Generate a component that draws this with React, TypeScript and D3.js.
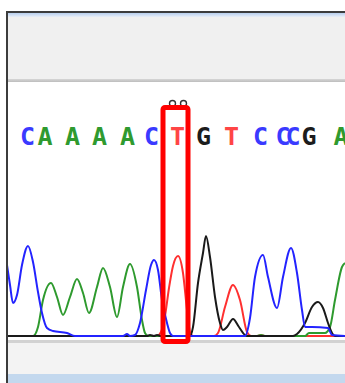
import React from "react";
import * as d3 from "d3";

// Trace samples: [scan position, signal]
const blueTrace: [number, number][] = [
  [0, 71], [3, 51], [6, 33], [10, 41], [15, 71], [21, 90], [26, 74], [31, 44], [35, 23], [40, 8],
  [46, 5], [60, 3], [68, 0], [116, 0], [120, 2], [123, 0], [128, 1], [133, 13], [139, 46], [144, 71],
  [147, 76], [151, 66], [155, 36], [160, 13], [163, 3], [166, 0], [238, 0], [243, 18], [248, 59],
  [256, 81], [261, 59], [270, 28], [276, 59], [284, 88], [290, 63], [295, 26], [298, 9], [305, 9],
  [321, 8], [325, 1], [338, 0],
];
const greenTrace: [number, number][] = [
  [0, 0], [26, 0], [31, 9], [36, 36], [44, 53], [50, 39], [56, 21], [63, 39], [70, 57], [76, 43],
  [82, 23], [90, 49], [96, 68], [103, 49], [110, 19], [116, 49], [123, 72], [130, 49], [135, 16],
  [138, 3], [141, 0], [250, 0], [254, 1], [258, 0], [298, 0], [302, 3], [318, 3], [323, 9],
  [328, 36], [335, 69], [338, 73],
];
const redTrace: [number, number][] = [
  [0, 0], [150, 0], [154, 4], [158, 20], [162, 48], [166, 70], [171, 80], [176, 63], [180, 26],
  [183, 4], [186, 0], [207, 0], [211, 3], [218, 29], [226, 51], [233, 36], [240, 4], [244, 0],
  [251, 0], [254, 1], [257, 0], [338, 0],
];
const blackTrace: [number, number][] = [
  [0, 0], [140, 0], [143, 1], [147, 0], [150, 1], [154, 0], [183, 0], [186, 9], [191, 53],
  [196, 83], [199, 100], [203, 79], [208, 39], [213, 13], [216, 6], [220, 9], [226, 17], [232, 9],
  [238, 1], [241, 0], [286, 0], [290, 2], [298, 13], [305, 29], [311, 34], [316, 28], [321, 13],
  [325, 3], [328, 0], [338, 0],
];

const bases = ["C", "A", "A", "A", "A", "C", "T", "G", "T", "C", "C", "C", "G", "A"];
const basePositions = [20.5, 38, 65.5, 92.5, 120.5, 144.5, 170.5, 196.5, 224.5, 253.5, 276, 286, 302, 334];

const baseColor: Record<string, string> = {
  A: "#2f9a2f",
  C: "#3a3aff",
  G: "#1c1c1c",
  T: "#ff4545",
};

const W = 345;
const H = 383;

export default function App() {
  const x = d3.scaleLinear().domain([0, 338]).range([7, 345]);
  const y = d3.scaleLinear().domain([0, 100]).range([336, 236]);
  const line = d3
    .line<[number, number]>()
    .x((d) => x(d[0]))
    .y((d) => y(d[1]))
    .curve(d3.curveMonotoneX);

  const traces = [
    { data: redTrace, color: "#ff3030" },
    { data: greenTrace, color: "#2e9a2e" },
    { data: blackTrace, color: "#1a1a1a" },
    { data: blueTrace, color: "#2323ff" },
  ];

  const markX = x(170.5);

  return (
    <svg
      width={W}
      height={H}
      style={{ position: "absolute", left: 0, top: 0, display: "block" }}
    >
      <defs>
        <linearGradient id="topBand" x1="0" y1="0" x2="0" y2="1">
          <stop offset="0" stopColor="#b8cfee" />
          <stop offset="1" stopColor="#e8eef7" />
        </linearGradient>
        <linearGradient id="sep" x1="0" y1="0" x2="0" y2="1">
          <stop offset="0" stopColor="#d6d6d6" />
          <stop offset="1" stopColor="#bdbdbd" />
        </linearGradient>
        <clipPath id="plotClip">
          <rect x={8} y={82} width={W - 8} height={258} />
        </clipPath>
      </defs>
      <rect x={0} y={0} width={W} height={H} fill="#ffffff" />
      {/* window frame */}
      <rect x={6} y={11} width={W - 6} height={H - 11} fill="#3c3c3c" />
      <rect x={8} y={13} width={W - 8} height={4} fill="url(#topBand)" />
      <rect x={8} y={17} width={W - 8} height={62} fill="#f0f0f0" />
      <rect x={8} y={79} width={W - 8} height={3} fill="url(#sep)" />
      <rect x={8} y={82} width={W - 8} height={258} fill="#ffffff" />
      <rect x={8} y={340} width={W - 8} height={3} fill="#d2d2d2" />
      <rect x={8} y={343} width={W - 8} height={31} fill="#f3f3f3" />
      <rect x={8} y={374} width={W - 8} height={9} fill="#c3d8ee" />

      {/* base calls */}
      <g clipPath="url(#plotClip)">
        {bases.map((b, i) => (
          <text
            key={i}
            x={x(basePositions[i])}
            y={145}
            textAnchor="middle"
            fontFamily="'DejaVu Sans Mono', monospace"
            fontWeight="bold"
            fontSize={25}
            fill={baseColor[b]}
          >
            {b}
          </text>
        ))}

        {/* traces */}
        {traces.map((t, i) => (
          <path
            key={i}
            d={line(t.data) || ""}
            fill="none"
            stroke={t.color}
            strokeWidth={2}
            strokeLinejoin="round"
          />
        ))}
      </g>

      {/* marker above highlighted base */}
      <circle cx={markX - 5} cy={103.5} r={3} fill="none" stroke="#333" strokeWidth={1.4} />
      <circle cx={markX + 6} cy={103.5} r={3} fill="none" stroke="#333" strokeWidth={1.4} />

      {/* highlight box */}
      <rect
        x={163}
        y={107.5}
        width={25}
        height={234}
        rx={2}
        fill="none"
        stroke="#ff0000"
        strokeWidth={5}
      />
    </svg>
  );
}
